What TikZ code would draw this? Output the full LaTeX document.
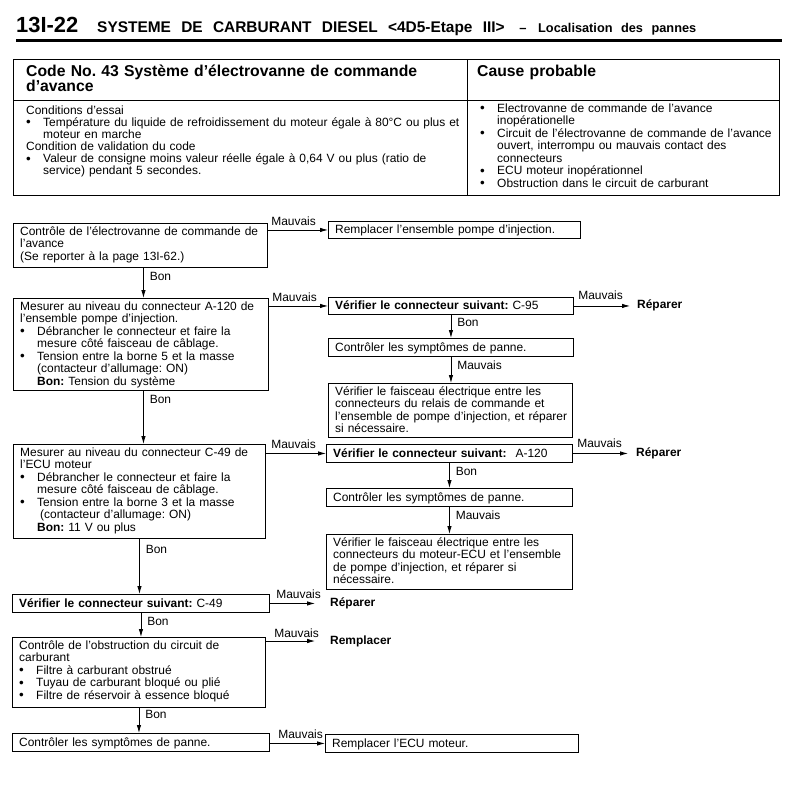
\documentclass[tikz,border=0pt]{standalone}
\usepackage{fontspec}
\setmainfont{Liberation Sans}[WordSpace=1.9]
\newfontfamily\hdfont{Liberation Sans}[WordSpace=1.2]
\newfontfamily\ttlfont{Liberation Sans}[WordSpace=2.4]
\usetikzlibrary{arrows.meta}
\setlength{\parindent}{0pt}
\frenchspacing
\newcommand\bulx{\makebox[17bp][l]{\raisebox{-0.4bp}[0pt][0pt]{\fontsize{13.5}{12}\selectfont\textbullet}}}
\newcommand\indx{\hspace*{17bp}}
\tikzset{
  flbox/.style={draw, line width=0.9bp, anchor=north west, inner sep=0pt},
  ftxt/.style={anchor=base west, inner sep=0pt, align=left, text width=300bp,
    font=\fontsize{12}{12.5}\selectfont},
  tbtxt/.style={anchor=base west, inner sep=0pt, align=left, text width=440bp,
    font=\fontsize{12}{12.2}\selectfont},
  hdtxt/.style={anchor=base west, inner sep=0pt, align=left, text width=430bp,
    font=\hdfont\bfseries\fontsize{15.8}{15}\selectfont},
  arr/.style={line width=0.8bp, -{Latex[length=8bp,width=4.5bp]}},
  lab/.style={inner sep=2bp, font=\fontsize{12}{12.5}\selectfont},
  res/.style={anchor=west, inner ysep=0pt, font=\bfseries\fontsize{12}{12.5}\selectfont},
  tbl/.style={line width=1bp}
}
\begin{document}
\begin{tikzpicture}[x=1bp,y=-1bp]
\useasboundingbox (0,0) rectangle (795,788);
% ---------- header ----------
\node[anchor=base west, inner sep=0pt, font=\bfseries\fontsize{22}{22}\selectfont] (pg) at (16,33) {13I-22};
\node[anchor=base west, inner sep=0pt, font=\ttlfont\bfseries\fontsize{15.5}{16}\selectfont] (ttl) at (97,33) {SYSTEME DE CARBURANT DIESEL <4D5-Etape III>};
\node[anchor=base, inner sep=0pt, font=\bfseries\fontsize{13}{13}\selectfont] (dsh) at (523,33) {–};
\node[anchor=base west, inner sep=0pt, font=\ttlfont\bfseries\fontsize{12.8}{13}\selectfont] (loc) at (538,33) {Localisation des pannes};
\draw[line width=3bp] (16,40.5) -- (782,40.5);
% ---------- table ----------
\draw[tbl] (13,60) rectangle (779,195);
\draw[tbl] (13,100) -- (779,100);
\draw[tbl] (467,60) -- (467,195);
\node[hdtxt] (h1) at (26,77) {Code No. 43 Système d’électrovanne de commande\\d’avance};
\node[hdtxt, text width=290bp] (h2) at (477,77) {Cause probable};
\node[tbtxt] (c1) at (26,114) {Conditions d’essai\\
\bulx Température du liquide de refroidissement du moteur égale à 80°C ou plus et\\
\indx moteur en marche\\
Condition de validation du code\\
\bulx Valeur de consigne moins valeur réelle égale à 0,64 V ou plus (ratio de\\
\indx service) pendant 5 secondes.};
\node[tbtxt, text width=295bp, font=\fontsize{12}{12.5}\selectfont] (c2) at (480,112.5) {\bulx Electrovanne de commande de l’avance\\
\indx inopérationelle\\
\bulx Circuit de l’électrovanne de commande de l'avance\\
\indx ouvert, interrompu ou mauvais contact des\\
\indx connecteurs\\
\bulx ECU moteur inopérationnel\\
\bulx Obstruction dans le circuit de carburant};
% ---------- left column boxes ----------
\node[flbox, minimum width=254bp, minimum height=44bp] (b1) at (13,223) {};
\node[ftxt] (t1) at ([xshift=7bp,yshift=-12.5bp]b1.north west) {Contrôle de l'électrovanne de commande de\\l’avance\\(Se reporter à la page 13I-62.)};
\node[flbox, minimum width=255bp, minimum height=92bp] (b2) at (13,298) {};
\node[ftxt] (t2) at ([xshift=7bp,yshift=-12.5bp]b2.north west) {Mesurer au niveau du connecteur A-120 de\\
l’ensemble pompe d’injection.\\
\bulx Débrancher le connecteur et faire la\\
\indx mesure côté faisceau de câblage.\\
\bulx Tension entre la borne 5 et la masse\\
\indx (contacteur d'allumage: ON)\\
\indx\textbf{Bon:} Tension du système};
\node[flbox, minimum width=252bp, minimum height=94bp] (b3) at (13,444) {};
\node[ftxt] (t3) at ([xshift=7bp,yshift=-12.5bp]b3.north west) {Mesurer au niveau du connecteur C-49 de\\
l'ECU moteur\\
\bulx Débrancher le connecteur et faire la\\
\indx mesure côté faisceau de câblage.\\
\bulx Tension entre la borne 3 et la masse\\
\indx\hspace*{3bp}(contacteur d'allumage: ON)\\
\indx\textbf{Bon:} 11 V ou plus};
\node[flbox, minimum width=257bp, minimum height=18bp] (b4) at (12,594) {};
\node[ftxt] (t4) at ([xshift=7bp,yshift=-13bp]b4.north west) {\textbf{Vérifier le connecteur suivant:} C-49};
\node[flbox, minimum width=253bp, minimum height=70bp] (b5) at (12,637) {};
\node[ftxt] (t5) at ([xshift=7bp,yshift=-12.5bp]b5.north west) {Contrôle de l’obstruction du circuit de\\
carburant\\
\bulx Filtre à carburant obstrué\\
\bulx Tuyau de carburant bloqué ou plié\\
\bulx Filtre de réservoir à essence bloqué};
\node[flbox, minimum width=257bp, minimum height=18bp] (b6) at (12,733) {};
\node[ftxt] (t6) at ([xshift=7bp,yshift=-13bp]b6.north west) {Contrôler les symptômes de panne.};
% ---------- right column boxes ----------
\node[flbox, minimum width=252bp, minimum height=17bp] (r1) at (328,221) {};
\node[ftxt] (s1) at ([xshift=7bp,yshift=-12.5bp]r1.north west) {Remplacer l'ensemble pompe d’injection.};
\node[flbox, minimum width=245bp, minimum height=17bp] (r2) at (328,297) {};
\node[ftxt] (s2) at ([xshift=7bp,yshift=-12.5bp]r2.north west) {\textbf{Vérifier le connecteur suivant:} C-95};
\node[flbox, minimum width=245bp, minimum height=18bp] (r3) at (328,338) {};
\node[ftxt] (s3) at ([xshift=7bp,yshift=-13bp]r3.north west) {Contrôler les symptômes de panne.};
\node[flbox, minimum width=244bp, minimum height=54bp] (r4) at (328,383) {};
\node[ftxt] (s4) at ([xshift=7bp,yshift=-12.5bp]r4.north west) {Vérifier le faisceau électrique entre les\\
connecteurs du relais de commande et\\
l’ensemble de pompe d’injection, et réparer\\
si nécessaire.};
\node[flbox, minimum width=246bp, minimum height=18bp] (r5) at (326,444) {};
\node[ftxt] (s5) at ([xshift=7bp,yshift=-13bp]r5.north west) {\textbf{Vérifier le connecteur suivant:}\hspace{5bp} A-120};
\node[flbox, minimum width=246bp, minimum height=18bp] (r6) at (326,488) {};
\node[ftxt] (s6) at ([xshift=7bp,yshift=-13bp]r6.north west) {Contrôler les symptômes de panne.};
\node[flbox, minimum width=246bp, minimum height=55bp] (r7) at (326,534) {};
\node[ftxt] (s7) at ([xshift=7bp,yshift=-12.5bp]r7.north west) {Vérifier le faisceau électrique entre les\\
connecteurs du moteur-ECU et l'ensemble\\
de pompe d’injection, et réparer si\\
nécessaire.};
\node[flbox, minimum width=253bp, minimum height=18bp] (r8) at (325,734) {};
\node[ftxt] (s8) at ([xshift=7bp,yshift=-13bp]r8.north west) {Remplacer l’ECU moteur.};
% ---------- result texts ----------
\node[res, inner xsep=7bp] (rep1) at (630,305.5) {Réparer};
\node[res, inner xsep=8bp] (rep2) at (628,453) {Réparer};
\node[res, inner xsep=15bp] (rep3) at (315,603) {Réparer};
\node[res, inner xsep=15bp] (rem) at (315,641) {Remplacer};
% ---------- connectors ----------
\draw[arr] (r1.west -| b1.east) -- node[lab, pos=0, anchor=south west, xshift=1bp, yshift=2bp] {Mauvais} (r1.west);
\draw[arr] ([xshift=3bp]b1.south) -- node[lab, pos=0, anchor=north west, xshift=4bp, yshift=-2bp] {Bon} ([xshift=3bp]b1.south |- b2.north);
\draw[arr] (r2.west -| b2.east) -- node[lab, pos=0, anchor=south west, xshift=1bp, yshift=2bp] {Mauvais} (r2.west);
\draw[arr] (r2.east) -- node[lab, pos=0, anchor=south west, xshift=2bp, yshift=4bp] {Mauvais} (r2.east -| rep1.west);
\draw[arr] (r2.south) -- node[lab, pos=0, anchor=north west, xshift=4bp, yshift=-1bp] {Bon} (r2.south |- r3.north);
\draw[arr] (r3.south) -- node[lab, pos=0, anchor=north west, xshift=4bp, yshift=-2bp] {Mauvais} (r3.south |- r4.north);
\draw[arr] ([xshift=2.5bp]b2.south) -- node[lab, pos=0, anchor=north west, xshift=4bp, yshift=-2bp] {Bon} ([xshift=2.5bp]b2.south |- b3.north);
\draw[arr] (r5.west -| b3.east) -- node[lab, pos=0, anchor=south west, xshift=3bp, yshift=2bp] {Mauvais} (r5.west);
\draw[arr] (r5.east) -- node[lab, pos=0, anchor=south west, xshift=2bp, yshift=3bp] {Mauvais} (r5.east -| rep2.west);
\draw[arr] (r5.south) -- node[lab, pos=0, anchor=north west, xshift=4bp, yshift=-2bp] {Bon} (r5.south |- r6.north);
\draw[arr] (r6.south) -- node[lab, pos=0, anchor=north west, xshift=4bp, yshift=-2bp] {Mauvais} (r6.south |- r7.north);
\draw[arr] (b3.south) -- node[lab, pos=0, anchor=north west, xshift=4bp, yshift=-4bp] {Bon} (b3.south |- b4.north);
\draw[arr] (b4.east) -- node[lab, pos=0, anchor=south west, xshift=4bp, yshift=2bp] {Mauvais} (b4.east -| rep3.west);
\draw[arr] (b4.south) -- node[lab, pos=0, anchor=north west, xshift=4bp, yshift=-2bp] {Bon} (b4.south |- b5.north);
\draw[arr] (rem.west -| b5.east) -- node[lab, pos=0, anchor=south west, xshift=6bp, yshift=1bp] {Mauvais} (rem.west);
\draw[arr] (b5.south) -- node[lab, pos=0, anchor=north west, xshift=4bp, yshift=0bp] {Bon} (b5.south |- b6.north);
\draw[arr] (r8.west -| b6.east) -- node[lab, pos=0, anchor=south west, xshift=6bp, yshift=2bp] {Mauvais} (r8.west);
\end{tikzpicture}
\end{document}
